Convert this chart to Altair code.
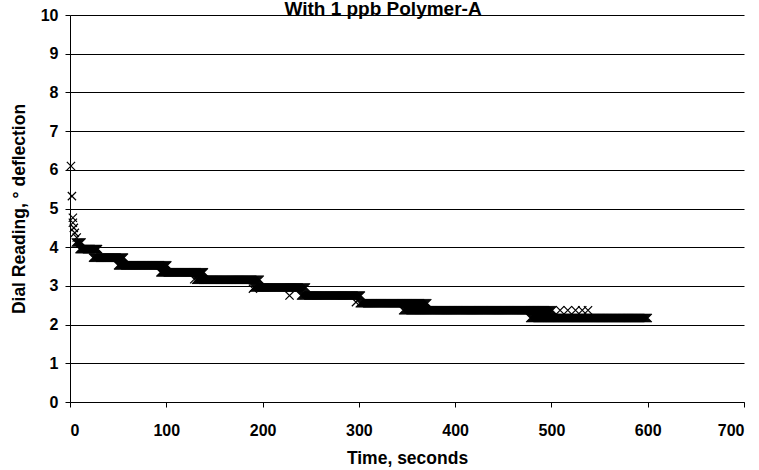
import altair as alt
import pandas as pd

# Step runs of dial readings (start second, end second, reading)
run_start = [6, 10, 24, 50, 94, 131, 191, 240, 301, 346, 478]
run_end = [12, 29, 56, 101, 139, 197, 245, 302, 371, 501, 600]
run_level = [4.12, 3.95, 3.73, 3.53, 3.35, 3.16, 2.96, 2.75, 2.55, 2.37, 2.17]

# Individual readings (early decay and scattered points)
extra_t = [1, 2, 3, 3, 4, 5, 7, 129, 190, 228, 297, 509, 517, 525, 532, 538]
extra_v = [6.1, 5.32, 4.76, 4.63, 4.5, 4.37, 4.25, 3.17, 2.93, 2.75, 2.58,
           2.37, 2.37, 2.37, 2.37, 2.37]

x_ticks = [0, 100, 200, 300, 400, 500, 600, 700]
y_ticks = [0, 1, 2, 3, 4, 5, 6, 7, 8, 9, 10]

rows = []
for s, e, v in zip(run_start, run_end, run_level):
    for t in range(s, e + 1):
        rows.append({"t": t, "v": v})
for t, v in zip(extra_t, extra_v):
    rows.append({"t": t, "v": v})
df = pd.DataFrame(rows)

FONT = "Liberation Sans"

chart = (
    alt.Chart(df)
    .mark_point(
        shape="M-1,-1L1,1M-1,1L1,-1",
        filled=False,
        stroke="black",
        strokeWidth=1.2,
        size=68,
        opacity=1,
    )
    .encode(
        x=alt.X(
            "t:Q",
            scale=alt.Scale(domain=[0, 700], nice=False),
            axis=alt.Axis(
                title="Time, seconds",
                values=x_ticks,
                grid=False,
                labelPadding=15,
                titlePadding=11,
            ),
        ),
        y=alt.Y(
            "v:Q",
            scale=alt.Scale(domain=[0, 10], nice=False),
            axis=alt.Axis(
                title="Dial Reading, ° deflection",
                values=y_ticks,
                grid=True,
                labelPadding=7,
                titlePadding=12,
            ),
        ),
    )
    .properties(
        width=674,
        height=387,
        title=alt.TitleParams(
            "With 1 ppb Polymer-A",
            font=FONT,
            fontSize=19,
            fontWeight="bold",
            anchor="middle",
            dx=-24,
            baseline="alphabetic",
            offset=0,
            dy=27,
            color="black",
        ),
        autosize=alt.AutoSizeParams(type="none"),
        padding={"left": 70, "top": 15, "right": 15, "bottom": 68},
    )
    .configure_view(strokeWidth=0)
    .configure_axis(
        labelFont=FONT,
        labelFontSize=16,
        labelFontWeight="bold",
        labelColor="black",
        titleFont=FONT,
        titleFontSize=17.5,
        titleFontWeight="bold",
        titleColor="black",
        domainColor="black",
        domainWidth=1,
        tickColor="black",
        tickSize=5,
        gridColor="black",
        gridWidth=1,
        gridOpacity=1,
    )
)

chart.save("out.html", embed_options={"renderer": "svg", "actions": False})
